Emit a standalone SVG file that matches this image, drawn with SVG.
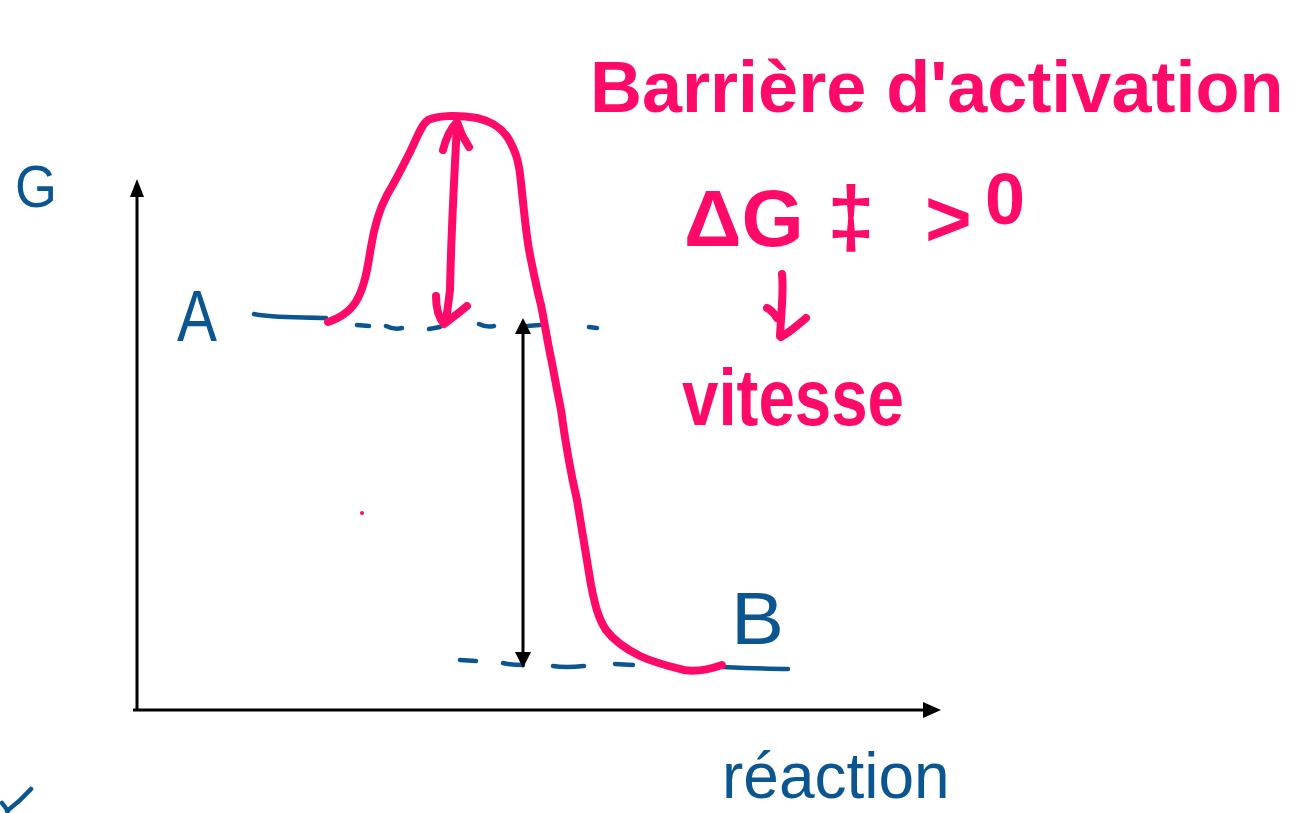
<svg xmlns="http://www.w3.org/2000/svg" width="1302" height="813" viewBox="0 0 1302 813">
<style>
.pink{fill:#FF0A68;font-family:"Liberation Sans","Noto Sans",sans-serif;font-weight:bold}
.blue{fill:#0B5690;font-family:"Liberation Sans","Noto Sans",sans-serif}
.bl{stroke:#0B5690;stroke-width:4.5;stroke-linecap:round;fill:none}
.pk{stroke:#FF0A68;stroke-width:8;stroke-linecap:round;stroke-linejoin:round;fill:none}
.ax{stroke:#000;stroke-width:3;fill:none}
</style>
<rect width="1302" height="813" fill="#fff"/>
<g id="axes">
<path class="ax" d="M137,192 V711 M133,710 H928"/>
<polygon points="137,179 130,197 144,197" fill="#000"/>
<polygon points="941,710 923,702 923,718" fill="#000"/>
</g>
<g id="levels">
<path class="bl" d="M254,314 C270,318 300,317 326,318"/>
<path class="bl" d="M357,325 L369,326 M386,326 C392,329 398,329 402,328 M429,329 L440,327 M479,324 C485,327 490,327 494,326 M527,326 L540,325 M589,327 L597,328"/>
<path class="bl" d="M460,660 L476,661 M503,663 C510,665 518,665 523,665 M553,666 C565,668 575,667 584,666 M615,664 L633,665 M722,667 C745,668 770,669 788,669"/>
</g>
<g id="curve">
<path class="pk" d="M328,322 C340,318 352,310 358,298 C366,282 368,264 371,247 C374,228 378,212 387,195 C396,180 403,166 410,152 C417,138 421,125 428,120 C440,115 460,115 477,118 C490,121 500,126 508,138 C515,150 519,160 521,183 C524,210 526,235 530,255 C534,275 537,290 541,305 C545,325 548,345 552,363 C556,385 558,395 561,410 C565,440 570,470 577,500 C582,530 586,555 591,585 C595,605 598,618 606,630 C615,642 628,650 640,656 C655,663 668,666 684,670 C695,672 705,671 722,665"/>
<circle cx="362" cy="513" r="2" fill="#FF0A68"/>
</g>
<g id="connectors">
<path class="pk" d="M457,125 C454,180 451,240 450,290 L446,321"/>
<path class="pk" d="M443,150 C446,138 451,128 457,122 L462,135 L469,147"/>
<path class="pk" d="M436,296 C436,308 439,318 444,324 C452,318 460,312 467,306"/>
<path class="ax" d="M523,330 V656"/>
<polygon points="523,318 515,334 531,334" fill="#000"/>
<polygon points="523,668 515,652 531,652" fill="#000"/>
<path class="pk" d="M782,274 C784,290 781,315 780,336 M767,308 C772,310 775,315 777,318 M806,318 C798,325 790,332 781,337"/>
<path class="bl" d="M2,803 L8,811 M31,789 C23,798 15,805 7,811"/>
</g>
<g id="label-G"><text class="blue" x="15" y="207" font-size="60" textLength="42" lengthAdjust="spacingAndGlyphs">G</text></g>
<g id="label-A"><text class="blue" x="177" y="341" font-size="72" textLength="40" lengthAdjust="spacingAndGlyphs">A</text></g>
<g id="label-B"><text class="blue" x="731" y="644" font-size="75" textLength="53" lengthAdjust="spacingAndGlyphs">B</text></g>
<g id="label-reaction"><text class="blue" x="722" y="798" font-size="64">réaction</text></g>
<g id="label-barriere"><text class="pink" x="590" y="112" font-size="72">Barrière d'activation</text></g>
<g id="label-dG"><text class="pink" y="246" font-size="80"><tspan x="684">ΔG</tspan><tspan x="827" font-size="86">‡</tspan><tspan x="925">&gt;</tspan><tspan x="985" y="224" font-size="72">0</tspan></text></g>
<g id="label-vitesse"><text class="pink" x="682" y="425" font-size="80" textLength="222" lengthAdjust="spacingAndGlyphs">vitesse</text></g>
</svg>
